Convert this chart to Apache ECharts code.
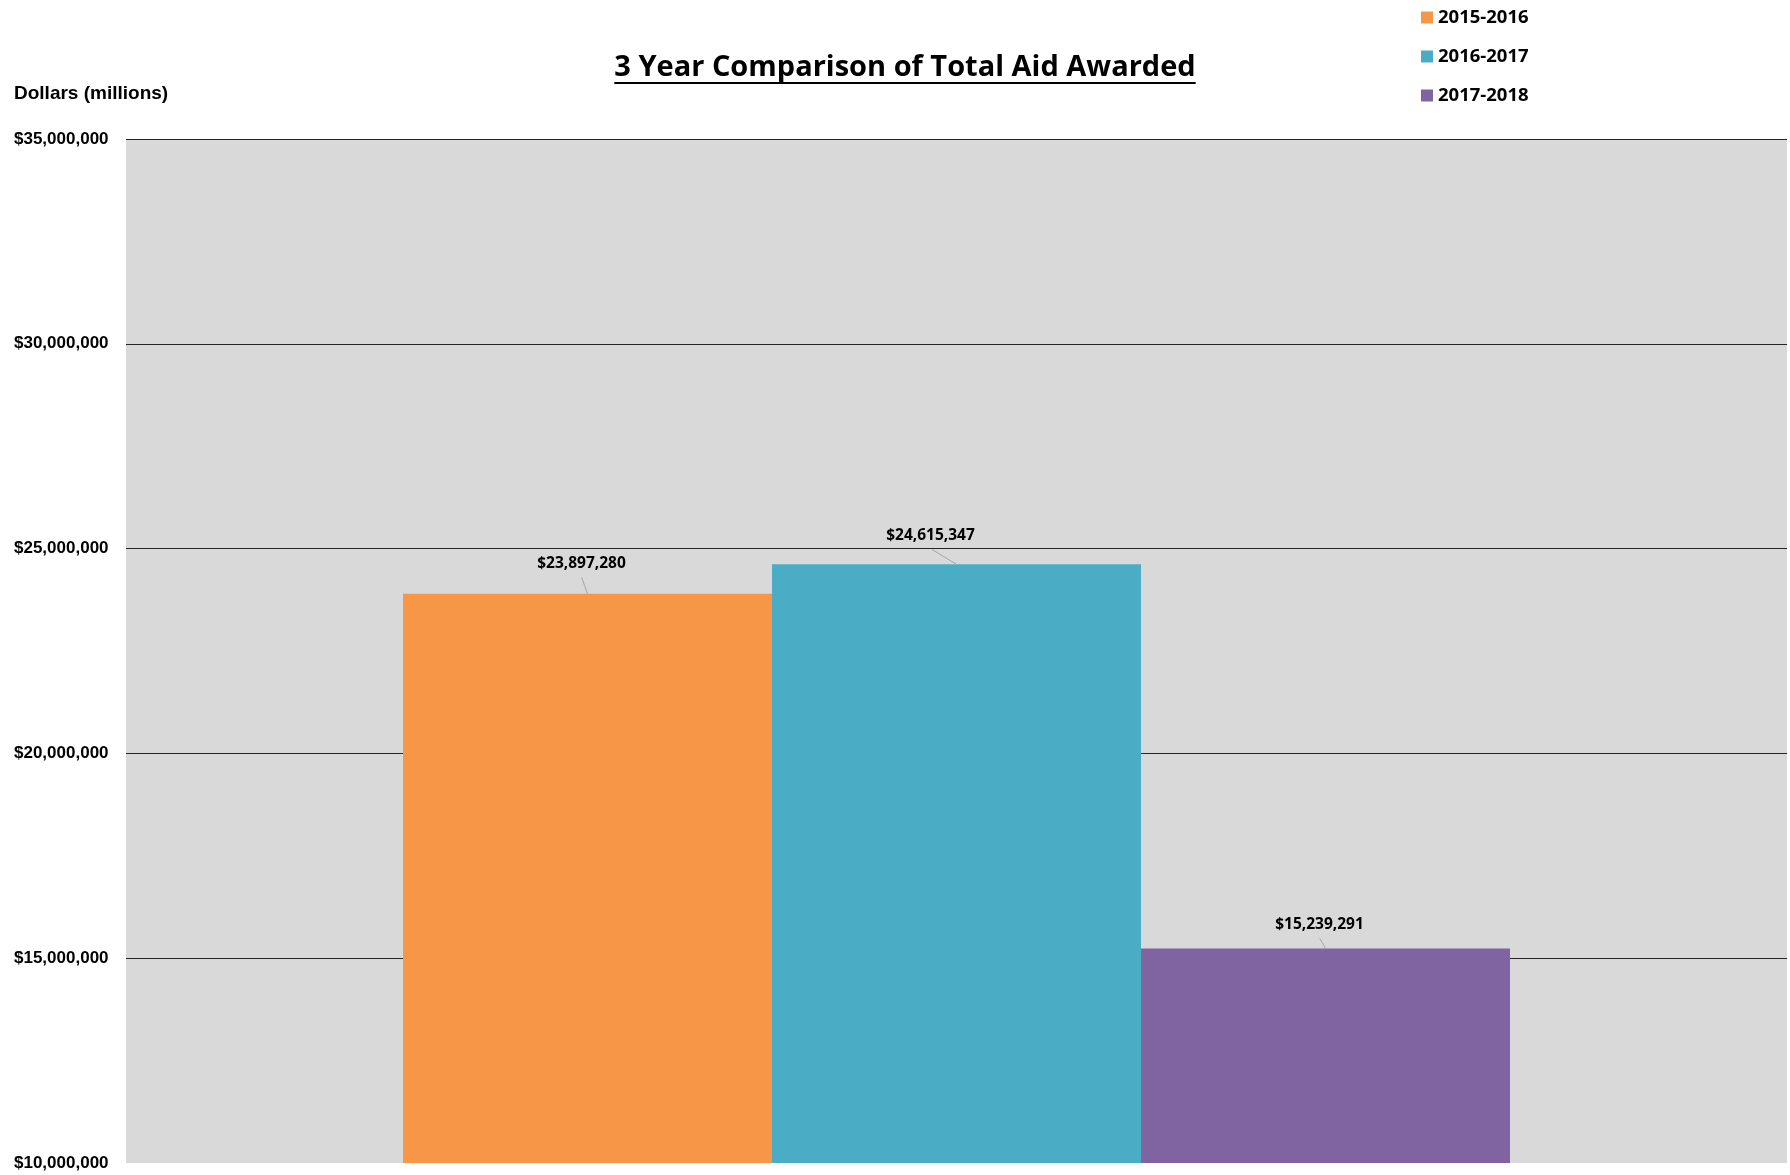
<!DOCTYPE html>
<html>
<head>
<meta charset="utf-8">
<script src="https://cdn.jsdelivr.net/npm/echarts@6/dist/echarts.min.js"></script>
<style>
  html, body { margin: 0; padding: 0; background: #ffffff; }
  #chart { width: 1790px; height: 1175px; }
</style>
</head>
<body>
<div id="chart"></div>
<script>
// Total aid awarded by academic year
const categories = ['Total Aid Awarded'];
const seriesNames = ['2015-2016', '2016-2017', '2017-2018'];
const aid2015 = [23897280];
const aid2016 = [24615347];
const aid2017 = [15239291];
const seriesColors = ['#F79646', '#4BACC6', '#8064A2'];
const yTicks = [10000000, 15000000, 20000000, 25000000, 30000000, 35000000];

const BAR_W = 369;
// label nudges (dx, dy) so each value sits slightly off its bar, joined by a leader line
const labelNudge = [[-6, -17], [-26, -16], [-6, -11]];

const titleText = '3 Year Comparison of Total Aid Awarded';
const titleFont = 'bold 29px "Open Sans"';

function money(v) {
  return '$' + String(Math.round(v)).replace(/\B(?=(\d{3})+(?!\d))/g, ',');
}

function measure(text, font) {
  const ctx = document.createElement('canvas').getContext('2d');
  ctx.font = font;
  return ctx.measureText(text).width;
}

const chart = echarts.init(document.getElementById('chart'), null, { renderer: 'canvas' });

const valueSets = [aid2015, aid2016, aid2017];
const series = seriesNames.map((name, i) => ({
  name: name,
  type: 'bar',
  data: valueSets[i],
  barWidth: BAR_W,
  barGap: '0%',
  itemStyle: { color: seriesColors[i] },
  label: {
    show: true,
    position: 'top',
    distance: 5,
    formatter: p => money(p.value),
    fontFamily: '"Open Sans"',
    fontWeight: 'bold',
    fontSize: 15.5,
    color: '#000'
  },
  labelLayout: { dx: labelNudge[i][0], dy: labelNudge[i][1] }
}));

// Leader lines from each moved label down to the top centre of its bar
const leaderData = valueSets.map((vals, i) => [0, vals[0], i]);
series.push({
  type: 'custom',
  name: 'leaders',
  z: 5,
  silent: true,
  data: leaderData,
  renderItem: function (params, api) {
    const idx = api.value(2);
    const p = api.coord([api.value(0), api.value(1)]);
    const x = p[0] + (idx - 1) * BAR_W;
    const y = p[1];
    const nx = labelNudge[idx][0];
    const ny = labelNudge[idx][1];
    return {
      type: 'line',
      shape: { x1: x + nx * 0.95, y1: y + ny + 1, x2: x, y2: y },
      style: { stroke: '#A6A6A6', lineWidth: 1 }
    };
  }
});

const titleW = measure(titleText, titleFont);
const titleCx = 905;
const titleCy = 65;

// no rule on the baseline, dark rules on every other tick
const gridColors = yTicks.map((t, i) => (i === 0 ? 'rgba(0,0,0,0)' : '#262626'));

chart.setOption({
  backgroundColor: '#ffffff',
  animation: false,
  grid: { left: 126, right: 3, top: 139, bottom: 12, show: true, backgroundColor: '#D9D9D9', borderWidth: 0 },
  legend: {
    orient: 'vertical',
    left: 1416,
    top: 3,
    itemWidth: 12,
    itemHeight: 12,
    itemGap: 20,
    icon: 'rect',
    data: seriesNames,
    textStyle: { fontFamily: '"Open Sans"', fontWeight: 'bold', fontSize: 18.5, color: '#000', lineHeight: 19 }
  },
  xAxis: {
    type: 'category',
    data: categories,
    axisLine: { show: false },
    axisTick: { show: false },
    axisLabel: { show: false }
  },
  yAxis: {
    type: 'value',
    min: yTicks[0],
    max: yTicks[yTicks.length - 1],
    interval: 5000000,
    name: 'Dollars (millions)',
    nameLocation: 'end',
    nameGap: 0,
    nameTextStyle: {
      fontFamily: '"Liberation Sans"',
      fontWeight: 'bold',
      fontSize: 19,
      color: '#000',
      align: 'left',
      padding: [0, 0, 36, -112]
    },
    axisLine: { show: false },
    axisTick: { show: false },
    axisLabel: {
      formatter: v => money(v),
      fontFamily: '"Liberation Sans"',
      fontWeight: 'bold',
      fontSize: 17,
      color: '#000',
      align: 'left',
      margin: 112
    },
    splitLine: { show: true, lineStyle: { color: gridColors, width: 1.2 } }
  },
  graphic: [
    {
      type: 'text',
      left: titleCx - titleW / 2,
      top: titleCy - 12,
      style: { text: titleText, font: titleFont, fill: '#000' }
    },
    {
      type: 'line',
      shape: { x1: titleCx - titleW / 2, y1: titleCy + 18, x2: titleCx + titleW / 2, y2: titleCy + 18 },
      style: { stroke: '#000', lineWidth: 2 }
    }
  ],
  series: series
});
</script>
</body>
</html>
